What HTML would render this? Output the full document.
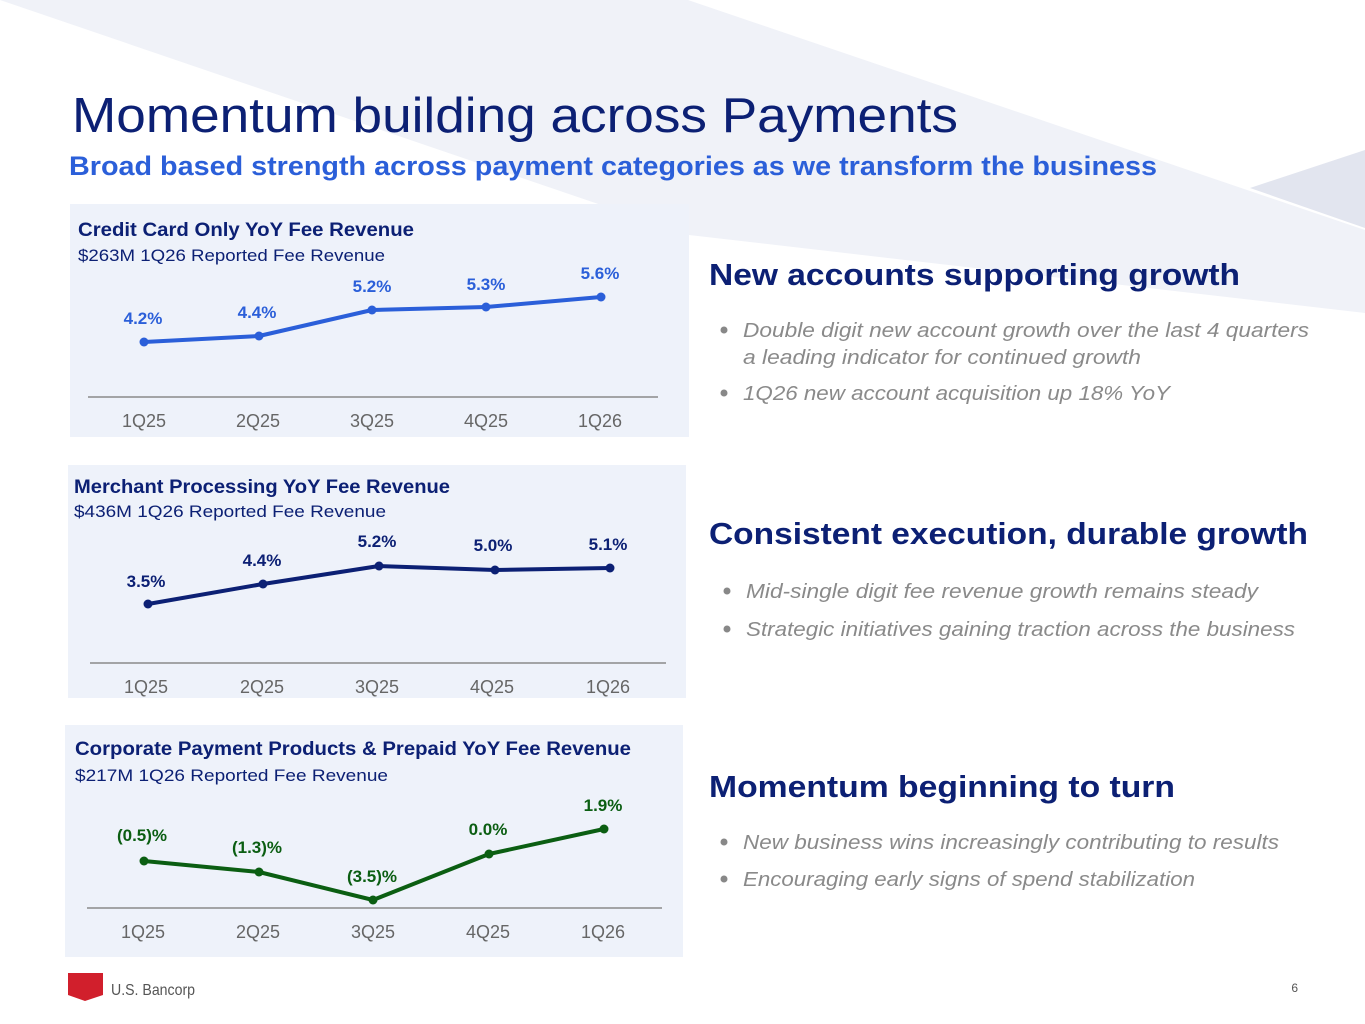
<!DOCTYPE html>
<html><head><meta charset="utf-8"><style>
html,body{margin:0;padding:0;background:#fff;}
svg{display:block;}
text{font-family:"Liberation Sans",sans-serif;}
</style></head><body>
<svg width="1365" height="1024" viewBox="0 0 1365 1024" xmlns="http://www.w3.org/2000/svg">
<rect width="1365" height="1024" fill="#fff"/>
<polygon points="0,0 688,0 1365,230 1365,313 689,235" fill="#f0f2f8"/>
<polygon points="1250,188 1365,150 1365,228" fill="#e2e5ef"/>

<text x="72" y="132" font-size="49" fill="#0c2074" textLength="886" lengthAdjust="spacingAndGlyphs">Momentum building across Payments</text>
<text x="69" y="175" font-size="27" font-weight="bold" fill="#2b5fd9" textLength="1088" lengthAdjust="spacingAndGlyphs">Broad based strength across payment categories as we transform the business</text>

<!-- Panel 1 -->
<rect x="70" y="204" width="619" height="233" fill="#eef2fa"/>
<text x="78" y="236" font-size="19" font-weight="bold" fill="#0c2074" textLength="336" lengthAdjust="spacingAndGlyphs">Credit Card Only YoY Fee Revenue</text>
<text x="78" y="261" font-size="17" fill="#0c2074" textLength="307" lengthAdjust="spacingAndGlyphs">$263M 1Q26 Reported Fee Revenue</text>
<line x1="88" y1="397" x2="658" y2="397" stroke="#8a8a8a" stroke-width="1.5"/>
<polyline points="144,342 259,336 372,310 486,307 601,297" fill="none" stroke="#2b5fd9" stroke-width="4" stroke-linejoin="round"/>
<g fill="#2b5fd9"><circle cx="144" cy="342" r="4.5"/><circle cx="259" cy="336" r="4.5"/><circle cx="372" cy="310" r="4.5"/><circle cx="486" cy="307" r="4.5"/><circle cx="601" cy="297" r="4.5"/></g>
<g font-size="17" font-weight="bold" fill="#2b5fd9" text-anchor="middle">
<text x="143" y="324">4.2%</text><text x="257" y="318">4.4%</text><text x="372" y="292">5.2%</text><text x="486" y="290">5.3%</text><text x="600" y="279">5.6%</text></g>
<g font-size="18" fill="#666" text-anchor="middle">
<text x="144" y="427">1Q25</text><text x="258" y="427">2Q25</text><text x="372" y="427">3Q25</text><text x="486" y="427">4Q25</text><text x="600" y="427">1Q26</text></g>

<!-- Panel 2 -->
<rect x="68" y="465" width="618" height="233" fill="#eef2fa"/>
<text x="74" y="493" font-size="19" font-weight="bold" fill="#0c2074" textLength="376" lengthAdjust="spacingAndGlyphs">Merchant Processing YoY Fee Revenue</text>
<text x="74" y="517" font-size="17" fill="#0c2074" textLength="312" lengthAdjust="spacingAndGlyphs">$436M 1Q26 Reported Fee Revenue</text>
<line x1="90" y1="663" x2="666" y2="663" stroke="#8a8a8a" stroke-width="1.5"/>
<polyline points="148,604 263,584 379,566 495,570 610,568" fill="none" stroke="#0c2074" stroke-width="4" stroke-linejoin="round"/>
<g fill="#0c2074"><circle cx="148" cy="604" r="4.5"/><circle cx="263" cy="584" r="4.5"/><circle cx="379" cy="566" r="4.5"/><circle cx="495" cy="570" r="4.5"/><circle cx="610" cy="568" r="4.5"/></g>
<g font-size="17" font-weight="bold" fill="#0c2074" text-anchor="middle">
<text x="146" y="587">3.5%</text><text x="262" y="566">4.4%</text><text x="377" y="547">5.2%</text><text x="493" y="551">5.0%</text><text x="608" y="550">5.1%</text></g>
<g font-size="18" fill="#666" text-anchor="middle">
<text x="146" y="693">1Q25</text><text x="262" y="693">2Q25</text><text x="377" y="693">3Q25</text><text x="492" y="693">4Q25</text><text x="608" y="693">1Q26</text></g>

<!-- Panel 3 -->
<rect x="65" y="725" width="618" height="232" fill="#eef2fa"/>
<text x="75" y="755" font-size="19" font-weight="bold" fill="#0c2074" textLength="556" lengthAdjust="spacingAndGlyphs">Corporate Payment Products &amp; Prepaid YoY Fee Revenue</text>
<text x="75" y="781" font-size="17" fill="#0c2074" textLength="313" lengthAdjust="spacingAndGlyphs">$217M 1Q26 Reported Fee Revenue</text>
<line x1="87" y1="908" x2="662" y2="908" stroke="#8a8a8a" stroke-width="1.5"/>
<polyline points="144,861 259,872 373,900 489,854 604,829" fill="none" stroke="#0b5e12" stroke-width="4" stroke-linejoin="round"/>
<g fill="#0b5e12"><circle cx="144" cy="861" r="4.5"/><circle cx="259" cy="872" r="4.5"/><circle cx="373" cy="900" r="4.5"/><circle cx="489" cy="854" r="4.5"/><circle cx="604" cy="829" r="4.5"/></g>
<g font-size="17" font-weight="bold" fill="#0b5e12" text-anchor="middle">
<text x="142" y="841">(0.5)%</text><text x="257" y="853">(1.3)%</text><text x="372" y="882">(3.5)%</text><text x="488" y="835">0.0%</text><text x="603" y="811">1.9%</text></g>
<g font-size="18" fill="#666" text-anchor="middle">
<text x="143" y="938">1Q25</text><text x="258" y="938">2Q25</text><text x="373" y="938">3Q25</text><text x="488" y="938">4Q25</text><text x="603" y="938">1Q26</text></g>

<!-- Right column -->
<g font-size="31" font-weight="bold" fill="#0c2074">
<text x="709" y="285" textLength="531" lengthAdjust="spacingAndGlyphs">New accounts supporting growth</text>
<text x="709" y="544" textLength="599" lengthAdjust="spacingAndGlyphs">Consistent execution, durable growth</text>
<text x="709" y="797" textLength="466" lengthAdjust="spacingAndGlyphs">Momentum beginning to turn</text></g>
<g fill="#888"><circle cx="724" cy="330" r="3.5"/><circle cx="724" cy="393" r="3.5"/><circle cx="727" cy="591" r="3.5"/><circle cx="727" cy="629" r="3.5"/><circle cx="724" cy="842" r="3.5"/><circle cx="724" cy="879" r="3.5"/></g>
<g font-size="20" font-style="italic" fill="#8a8a8a" lengthAdjust="spacingAndGlyphs">
<text x="743" y="337" textLength="566" lengthAdjust="spacingAndGlyphs">Double digit new account growth over the last 4 quarters</text>
<text x="743" y="364" textLength="398" lengthAdjust="spacingAndGlyphs">a leading indicator for continued growth</text>
<text x="743" y="400" textLength="427" lengthAdjust="spacingAndGlyphs">1Q26 new account acquisition up 18% YoY</text>
<text x="746" y="598" textLength="512" lengthAdjust="spacingAndGlyphs">Mid-single digit fee revenue growth remains steady</text>
<text x="746" y="636" textLength="549" lengthAdjust="spacingAndGlyphs">Strategic initiatives gaining traction across the business</text>
<text x="743" y="849" textLength="536" lengthAdjust="spacingAndGlyphs">New business wins increasingly contributing to results</text>
<text x="743" y="886" textLength="452" lengthAdjust="spacingAndGlyphs">Encouraging early signs of spend stabilization</text></g>

<!-- Footer -->
<polygon points="68,973 103,973 103,995 85,1001 68,995" fill="#d11f2c"/>
<text x="111" y="995" font-size="16" fill="#555" textLength="84" lengthAdjust="spacingAndGlyphs">U.S. Bancorp</text>
<text x="1298" y="992" font-size="12" fill="#555" text-anchor="end">6</text>
</svg>
</body></html>
